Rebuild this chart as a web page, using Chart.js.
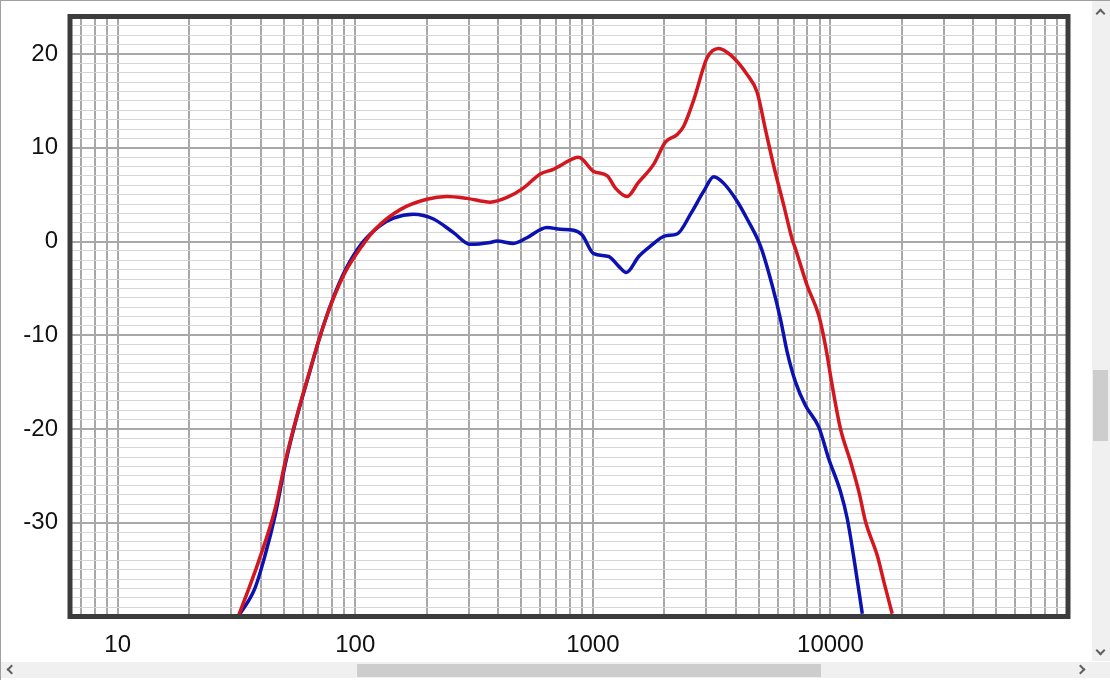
<!DOCTYPE html>
<html>
<head>
<meta charset="utf-8">
<script src="https://cdn.jsdelivr.net/npm/chart.js@4.4.1/dist/chart.umd.min.js"></script>
<style>
    html, body { margin: 0; padding: 0; background: #fff; }
    #frame {
        position: relative; width: 1110px; height: 680px; overflow: hidden;
        box-sizing: border-box; border-top: 1px solid #a0a0a0; border-left: 1px solid #a0a0a0;
    }
    #grafico { position: absolute; left: 0; top: 0; }
    .bar { position: absolute; background: #f0f0f0; }
    .thumb { position: absolute; background: #cdcdcd; }
    .arrow {
        position: absolute; width: 5px; height: 5px;
        border-left: 2px solid #606060; border-top: 2px solid #606060;
    }
</style>
</head>
<body>
<div id="frame">
    <canvas id="grafico" width="1090" height="660"></canvas>
    <div class="bar" style="left:1091px; top:0; width:18px; height:660px;"></div>
    <div class="thumb" style="left:1092px; top:369px; width:15px; height:71px;"></div>
    <div class="bar" style="left:0; top:661px; width:1109px; height:16px;"></div>
    <div class="thumb" style="left:356px; top:663px; width:464px; height:13px;"></div>
    <div class="arrow" style="left:1096px; top:9px; transform:rotate(45deg);"></div>
    <div class="arrow" style="left:1096px; top:646px; transform:rotate(225deg);"></div>
    <div class="arrow" style="left:7px; top:665px; transform:rotate(-45deg);"></div>
    <div class="arrow" style="left:1076px; top:665px; transform:rotate(135deg);"></div>
</div>
<script>
// curva rossa (frequenza in Hz, livello in dB)
const redFreq = [32.2, 39.1, 46.0, 50.7, 56.8, 63.5, 71.1, 79.7, 90.6, 106.6, 121.3, 154.6, 200, 243, 295, 370, 435, 510, 601, 682, 730, 872, 1005, 1151, 1245, 1394, 1556, 1799, 2020, 2263, 2412, 2659, 3027, 3388, 3796, 4463, 4918, 5332, 5780, 6370, 6907, 7130, 7985, 8935, 9528, 10180, 11030, 12160, 13180, 14060, 15750, 16790, 18200];
const redDb = [-40, -34.2, -28.5, -23.5, -18.6, -14.3, -10.1, -6.5, -3.3, -0.5, 1.3, 3.4, 4.5, 4.8, 4.6, 4.2, 4.7, 5.7, 7.2, 7.7, 8.1, 9.0, 7.5, 7.0, 5.7, 4.8, 6.3, 8.2, 10.6, 11.4, 12.3, 15.1, 19.6, 20.6, 19.9, 17.8, 15.9, 11.9, 8.0, 3.8, 0.2, -0.8, -4.7, -7.9, -11.1, -15.4, -20.0, -23.5, -26.7, -29.9, -33.5, -36.3, -39.7];

// curva blu
const blueFreq = [32.2, 37.8, 41.7, 46.0, 50.7, 56.8, 63.5, 71.1, 79.7, 90.6, 106.6, 127.3, 144.9, 175.8, 213.4, 259.2, 304.8, 370, 394.6, 463.5, 528, 641, 730, 830, 901, 1008, 1166, 1280, 1383, 1560, 1747, 2020, 2263, 2588, 2934, 3229, 3557, 4048, 4463, 5079, 5690, 6166, 6578, 7130, 7853, 8935, 9843, 11030, 11780, 12560, 13620];
const blueDb = [-40, -37.0, -33.5, -29.2, -23.8, -18.7, -14.4, -10.1, -6.4, -3.1, -0.2, 1.7, 2.5, 2.9, 2.4, 0.95, -0.3, -0.1, 0.05, -0.2, 0.4, 1.5, 1.3, 1.2, 0.7, -1.3, -1.6, -2.6, -3.3, -1.6, -0.5, 0.6, 0.8, 3.0, 5.4, 6.9, 6.2, 4.3, 2.4, -0.5, -4.7, -8.3, -11.8, -15.0, -17.5, -19.8, -23.2, -26.7, -29.6, -33.8, -39.7];

// assi
const xMin = 6.3;
const xMax = 100000;
const yMin = -40;
const yMax = 24;
const xLabels = [10, 100, 1000, 10000];
const yLabels = [-30, -20, -10, 0, 10, 20];

function creaPunti(freq, db) {
    return freq.map((f, i) => ({ x: f, y: db[i] }));
}

function tickLog() {
    const ticks = [];
    for (let dec = 1; dec <= 100000; dec *= 10) {
        for (let m = 1; m <= 9; m++) {
            const v = m * dec;
            if (v >= xMin && v <= xMax) ticks.push({ value: v });
        }
    }
    return ticks;
}

const bordoPlugin = {
    id: 'bordo',
    afterDatasetsDraw(chart) {
        const a = chart.chartArea;
        const ctx = chart.ctx;
        ctx.save();
        ctx.strokeStyle = '#3c3c3c';
        ctx.lineWidth = 5;
        ctx.strokeRect(a.left, a.top, a.right - a.left, a.bottom - a.top);
        ctx.restore();
    }
};

const ctx = document.getElementById('grafico').getContext('2d');
new Chart(ctx, {
    type: 'line',
    data: {
        datasets: [{
            data: creaPunti(redFreq, redDb),
            borderColor: '#d4161e',
            borderWidth: 3.5,
            pointRadius: 0,
            cubicInterpolationMode: 'monotone'
        }, {
            data: creaPunti(blueFreq, blueDb),
            borderColor: '#0c12b0',
            borderWidth: 3.5,
            pointRadius: 0,
            cubicInterpolationMode: 'monotone'
        }]
    },
    options: {
        responsive: false,
        animation: false,
        devicePixelRatio: 1,
        layout: { padding: { top: 15.5, right: 23, bottom: 0, left: 0 } },
        plugins: {
            legend: { display: false },
            tooltip: { enabled: false }
        },
        scales: {
            x: {
                type: 'logarithmic',
                min: xMin,
                max: xMax,
                afterBuildTicks: function(scale) {
                    scale.ticks = tickLog();
                },
                afterFit: function(scale) {
                    scale.height = 44.5;
                    scale.paddingLeft = 0;
                    scale.paddingRight = 0;
                },
                border: { display: false },
                grid: {
                    color: '#a8a8a8',
                    lineWidth: 2,
                    drawTicks: false
                },
                ticks: {
                    autoSkip: false,
                    maxRotation: 0,
                    padding: 14,
                    color: '#111',
                    font: { family: 'Liberation Sans, Arial, sans-serif', size: 24 },
                    callback: function(value) {
                        return xLabels.includes(value) ? String(value) : '';
                    }
                }
            },
            y: {
                min: yMin,
                max: yMax,
                afterFit: function(scale) {
                    scale.width = 69;
                    scale.paddingTop = 0;
                    scale.paddingBottom = 0;
                },
                border: { display: false },
                grid: {
                    drawTicks: false,
                    color: function(c) {
                        return c.tick.value % 10 === 0 ? '#a8a8a8' : '#d6d6d6';
                    },
                    lineWidth: function(c) {
                        return c.tick.value % 10 === 0 ? 2 : 1;
                    }
                },
                ticks: {
                    stepSize: 1,
                    autoSkip: false,
                    includeBounds: false,
                    padding: 12,
                    color: '#111',
                    font: { family: 'Liberation Sans, Arial, sans-serif', size: 24 },
                    callback: function(value) {
                        return yLabels.includes(value) ? String(value) : '';
                    }
                }
            }
        }
    },
    plugins: [bordoPlugin]
});
</script>
</body>
</html>
